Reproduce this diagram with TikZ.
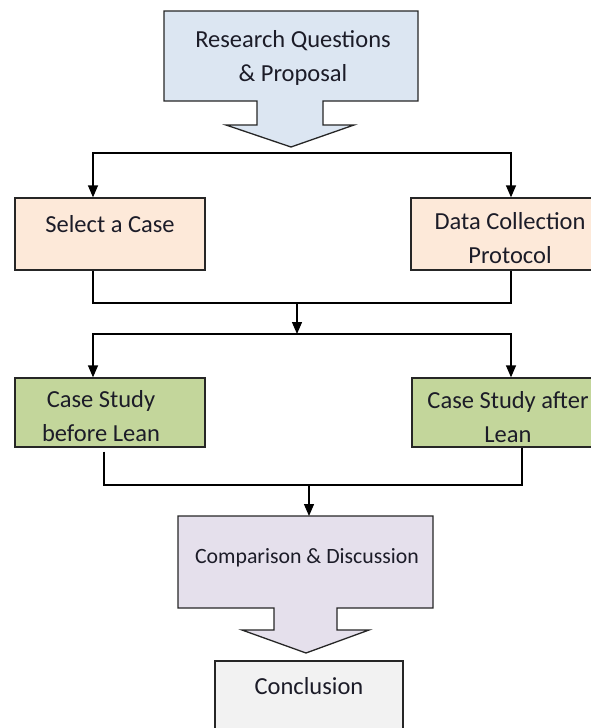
\documentclass[tikz,border=0pt]{standalone}
\usepackage{fontspec}
\setmainfont{Carlito}
\usetikzlibrary{arrows.meta}
\definecolor{qblue}{HTML}{DCE6F2}
\definecolor{peach}{HTML}{FDE9D9}
\definecolor{leaf}{HTML}{C3D69B}
\definecolor{lilac}{HTML}{E5E0EC}
\definecolor{pale}{HTML}{F2F2F2}
\definecolor{ink}{HTML}{1C1C28}
\definecolor{edge}{HTML}{262626}

\begin{document}
\begin{tikzpicture}[x=1pt,y=-1pt,
  outline/.style={draw=edge,line width=1.3pt},
  box/.style={outline,rectangle,inner sep=0pt},
  lbl/.style={text=ink,font=\fontsize{24.5}{34}\selectfont,align=center,inner sep=0pt},
  wire/.style={draw=black,line width=1.3pt},
  arr/.style={wire,-{Triangle[length=12pt,width=10pt]}}]

\useasboundingbox (0,0) rectangle (591,728);
\clip (0,0) rectangle (591,728);

% block-arrow callout at the top
\draw[outline,fill=qblue] (164,11) -- (418,11) -- (418,101) -- (323,101) -- (323,125)
  -- (354,125) -- (291,147) -- (226,125) -- (257,125) -- (257,101) -- (164,101) -- cycle;
\node[lbl] (rq) at (293,57.5) {Research Questions\\\& Proposal};

% first row
\node[box,fill=peach,minimum width=190pt,minimum height=72pt] (sel) at (110,234) {};
\node[box,fill=peach,minimum width=200pt,minimum height=72pt] (dcp) at (511,234) {};
\node[lbl] (seltext) at (110,224) {Select a Case};
\node[lbl] (dcptext) at (510,238) {Data Collection\\Protocol};

% second row
\node[box,fill=leaf,minimum width=190pt,minimum height=69pt] (bef) at (110,412.5) {};
\node[box,fill=leaf,minimum width=200pt,minimum height=69pt] (aft) at (512,412.5) {};
\node[lbl] (beftext) at (101,416) {Case Study\\before Lean};
\node[lbl] (afttext) at (508,417.5) {Case Study after\\Lean};

% comparison callout
\draw[outline,fill=lilac] (178,516) -- (433,516) -- (433,608) -- (337,608) -- (337,630)
  -- (369,630) -- (306,653) -- (242,630) -- (274,630) -- (274,608) -- (178,608) -- cycle;
\node[lbl,font=\fontsize{21.8}{30}\selectfont] (cmp) at (307,558) {Comparison \& Discussion};

% conclusion
\node[box,fill=pale,minimum width=188pt,minimum height=98pt] (con) at (309,710) {};
\node[lbl] (context) at (309,686) {Conclusion};

% connectors
\coordinate (split1) at (291,153);
\draw[arr] (split1) -| ([xshift=-17pt]sel.north);
\draw[arr] (split1) -| (dcp.north);

\coordinate (merge1) at (297,303);
\coordinate (split2) at (297,334);
\draw[wire] ([xshift=-17pt]sel.south) |- (merge1) -| (dcp.south);
\draw[arr] (merge1) -- (split2);
\draw[arr] (split2) -| ([xshift=-17pt]bef.north);
\draw[arr] (split2) -| ([xshift=-1pt]aft.north);

\coordinate (merge2) at (309,485);
\coordinate (cmptop) at (309,516);
\draw[wire] ([xshift=-6pt,yshift=-4pt]bef.south) |- (merge2) -| ([xshift=10pt]aft.south);
\draw[arr] (merge2) -- (cmptop);
\end{tikzpicture}
\end{document}
